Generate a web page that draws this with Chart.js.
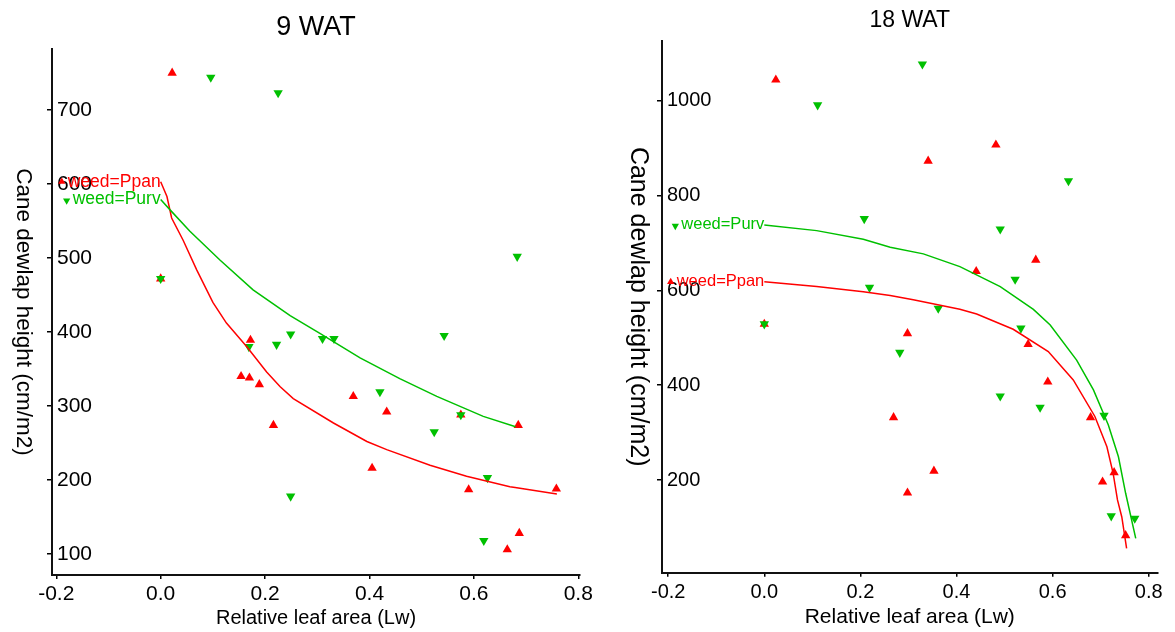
<!DOCTYPE html>
<html>
<head>
<meta charset="utf-8">
<script src="https://cdn.jsdelivr.net/npm/chart.js@4.4.1/dist/chart.umd.min.js"></script>
<style>
html,body{margin:0;padding:0;background:#fff;}
#wrap{position:relative;width:1175px;height:632px;overflow:hidden;background:#fff;}
#c1{position:absolute;left:0;top:0;}
#c2{position:absolute;left:600px;top:0;}
</style>
</head>
<body>
<div id="wrap">
<canvas id="c1" width="600" height="632"></canvas>
<canvas id="c2" width="575" height="632"></canvas>
</div>
<script>
// ---------- shared ----------
const X_TICKS = [-0.2, 0.0, 0.2, 0.4, 0.6, 0.8];
const SERIES_NAMES = ['weed=Ppan', 'weed=Purv'];

// ---------- 9 WAT ----------
const W9_Y_TICKS = [100, 200, 300, 400, 500, 600, 700];
const W9_PPAN_X = [0.022, 0.000, 0.172, 0.154, 0.170, 0.189, 0.216, 0.369, 0.433, 0.575, 0.405, 0.590, 0.664, 0.685, 0.758, 0.687];
const W9_PPAN_Y = [750, 472, 389, 340, 338, 329, 274, 313, 292, 288, 216, 187, 106, 274, 188, 128];
const W9_PURV_X = [0.096, 0.225, 0.000, 0.169, 0.222, 0.249, 0.310, 0.332, 0.543, 0.420, 0.575, 0.524, 0.249, 0.626, 0.619, 0.683];
const W9_PURV_Y = [744, 723, 472, 380, 383, 397, 391, 391, 395, 319, 288, 265, 178, 203, 118, 502];
const W9_PPAN_FIT_X = [0, 0.012, 0.021, 0.043, 0.069, 0.100, 0.126, 0.165, 0.203, 0.229, 0.254, 0.331, 0.395, 0.433, 0.516, 0.586, 0.669, 0.679, 0.759];
const W9_PPAN_FIT_Y = [603, 583, 554, 524, 484, 440, 412, 380, 346, 326, 310, 277, 252, 241, 220, 205, 191, 190, 181];
const W9_PURV_FIT_X = [0, 0.018, 0.056, 0.114, 0.177, 0.248, 0.305, 0.382, 0.458, 0.529, 0.618, 0.680];
const W9_PURV_FIT_Y = [579, 565, 536, 497, 457, 422, 398, 365, 337, 313, 286, 272];

// ---------- 18 WAT ----------
const W18_Y_TICKS = [200, 400, 600, 800, 1000];
const W18_PPAN_X = [0.024, 0.341, 0.482, 0.565, 0.441, 0.298, 0.549, 0.590, 0.269, 0.679, 0.353, 0.728, 0.704, 0.298, 0.752, 0.000];
const W18_PPAN_Y = [1044, 873, 907, 664, 640, 509, 486, 407, 332, 332, 219, 216, 196, 173, 83, 529];
const W18_PURV_X = [0.329, 0.111, 0.208, 0.633, 0.491, 0.522, 0.219, 0.362, 0.534, 0.282, 0.491, 0.574, 0.707, 0.722, 0.771, 0.000];
const W18_PURV_Y = [1077, 991, 751, 831, 729, 623, 606, 562, 520, 469, 377, 353, 336, 124, 119, 529];
const W18_PPAN_FIT_X = [0, 0.109, 0.206, 0.262, 0.310, 0.407, 0.442, 0.518, 0.591, 0.643, 0.688, 0.713, 0.726, 0.735, 0.744, 0.754];
const W18_PPAN_FIT_Y = [618, 608, 597, 589, 580, 560, 550, 518, 471, 411, 334, 270, 214, 158, 122, 56];
const W18_PURV_FIT_X = [0, 0.109, 0.206, 0.262, 0.331, 0.407, 0.491, 0.560, 0.595, 0.650, 0.685, 0.716, 0.737, 0.752, 0.773];
const W18_PURV_FIT_Y = [738, 726, 708, 691, 677, 650, 608, 560, 527, 453, 390, 316, 249, 172, 77];

// ---------- styling ----------
const FONT = "'Liberation Sans', Arial, Helvetica, sans-serif";
const RED = '#FF0000';
const GREEN = '#00C000';

function pts(xs, ys) { return xs.map((x, i) => ({x: x, y: ys[i]})); }

// y-axis title rotated clockwise (reads top to bottom)
const yTitleCW = {
  id: 'yTitleCW',
  afterDraw(chart, args, o) {
    const ctx = chart.ctx, ca = chart.chartArea;
    ctx.save();
    ctx.translate(o.x, (ca.top + ca.bottom) / 2);
    ctx.rotate(Math.PI / 2);
    ctx.font = o.size + 'px ' + FONT;
    ctx.fillStyle = '#000';
    ctx.textAlign = 'center';
    ctx.textBaseline = 'middle';
    ctx.fillText(o.text, 0, 0);
    ctx.restore();
  }
};

// group labels placed at the start of each fitted curve
const curveLabels = {
  id: 'curveLabels',
  afterDatasetsDraw(chart, args, o) {
    const ctx = chart.ctx;
    const xs = chart.scales.x, ys = chart.scales.y;
    o.items.forEach(it => {
      const ds = chart.data.datasets[it.dataset];
      const p0 = ds.data[0];
      const px = xs.getPixelForValue(p0.x), py = ys.getPixelForValue(p0.y);
      ctx.save();
      ctx.font = o.size + 'px ' + FONT;
      ctx.fillStyle = it.color;
      ctx.textAlign = 'right';
      ctx.textBaseline = 'middle';
      ctx.fillText(it.text, px, py);
      const w = ctx.measureText(it.text).width;
      ctx.beginPath();
      const r = 4.2, cx = px - w - 6, cy = py + (it.rotation ? 1 : 0);
      const a0 = it.rotation * Math.PI / 180;
      for (let k = 0; k < 3; k++) {
        const a = a0 + k * 2 * Math.PI / 3;
        const X = cx + Math.sin(a) * r, Y = cy - Math.cos(a) * r;
        if (k === 0) ctx.moveTo(X, Y); else ctx.lineTo(X, Y);
      }
      ctx.closePath();
      ctx.fill();
      ctx.restore();
    });
  }
};

function makeChart(id, cfg) {
  const datasets = [
    {label: SERIES_NAMES[1] + ' fit', data: pts(cfg.purvFitX, cfg.purvFitY), showLine: true, borderColor: GREEN, borderWidth: 1.5, pointRadius: 0, tension: 0, fill: false},
    {label: SERIES_NAMES[0] + ' fit', data: pts(cfg.ppanFitX, cfg.ppanFitY), showLine: true, borderColor: RED, borderWidth: 1.5, pointRadius: 0, tension: 0, fill: false},
    {label: SERIES_NAMES[1], data: pts(cfg.purvX, cfg.purvY), showLine: false, pointStyle: 'triangle', pointRotation: 180, pointRadius: 5.4, pointBorderWidth: 0, backgroundColor: GREEN, borderColor: GREEN},
    {label: SERIES_NAMES[0], data: pts(cfg.ppanX, cfg.ppanY), showLine: false, pointStyle: 'triangle', pointRotation: 0, pointRadius: 5.4, pointBorderWidth: 0, backgroundColor: RED, borderColor: RED}
  ];
  return new Chart(document.getElementById(id), {
    type: 'scatter',
    data: {datasets: datasets},
    plugins: [yTitleCW, curveLabels],
    options: {
      responsive: false,
      animation: false,
      events: [],
      layout: {padding: {left: 0, right: cfg.padRight, top: 0, bottom: 0}},
      plugins: {
        legend: {display: false},
        tooltip: {enabled: false},
        title: {display: true, text: cfg.title, fullSize: false, color: '#000',
                font: {family: FONT, size: cfg.titleSize, weight: 'normal', lineHeight: 1},
                padding: {top: cfg.titlePadTop, bottom: cfg.titlePadBottom}},
        yTitleCW: {text: 'Cane dewlap height (cm/m2)', x: cfg.yTitleX, size: cfg.yTitleSize},
        curveLabels: {size: cfg.labelSize, items: [
          {dataset: 1, text: SERIES_NAMES[0], color: RED, rotation: 0},
          {dataset: 0, text: SERIES_NAMES[1], color: GREEN, rotation: 180}
        ]}
      },
      scales: {
        x: {
          type: 'linear', position: 'bottom', min: cfg.xMin, max: cfg.xMax,
          afterBuildTicks: s => { s.ticks = X_TICKS.map(v => ({value: v})); },
          afterFit: s => { s.height = cfg.xAxisHeight; },
          ticks: {autoSkip: false, maxRotation: 0, color: '#000', padding: cfg.xTickPad,
                  font: {family: FONT, size: cfg.tickSize, lineHeight: 1},
                  callback: v => Number(v).toFixed(1)},
          grid: {drawOnChartArea: false, drawTicks: true, tickLength: 4, color: '#000', lineWidth: 1.5},
          border: {display: true, color: '#111', width: 2},
          title: {display: true, text: 'Relative leaf area (Lw)', color: '#000',
                  font: {family: FONT, size: cfg.xTitleSize, lineHeight: 1},
                  padding: {top: 0, bottom: cfg.xTitlePadBottom}}
        },
        y: {
          type: 'linear', position: 'left', min: cfg.yMin, max: cfg.yMax,
          afterBuildTicks: s => { s.ticks = cfg.yTicks.map(v => ({value: v})); },
          afterFit: s => { s.width = cfg.yAxisWidth; },
          ticks: {autoSkip: false, mirror: true, color: '#000', padding: 5,
                  font: {family: FONT, size: cfg.tickSize, lineHeight: 1},
                  callback: v => String(v)},
          grid: {drawOnChartArea: false, drawTicks: true, tickLength: 5, color: '#000', lineWidth: 1.5},
          border: {display: true, color: '#111', width: 2},
          title: {display: false}
        }
      }
    }
  });
}

makeChart('c1', {
  title: '9 WAT', titleSize: 27, titlePadTop: 14.5, titlePadBottom: 7.5,
  ppanX: W9_PPAN_X, ppanY: W9_PPAN_Y, purvX: W9_PURV_X, purvY: W9_PURV_Y,
  ppanFitX: W9_PPAN_FIT_X, ppanFitY: W9_PPAN_FIT_Y, purvFitX: W9_PURV_FIT_X, purvFitY: W9_PURV_FIT_Y,
  yTicks: W9_Y_TICKS, xMin: -0.2082, xMax: 0.8033, yMin: 71.6, yMax: 782.4,
  padRight: 20, xAxisHeight: 57, yAxisWidth: 52,
  tickSize: 21, xTickPad: 4.5, xTitleSize: 20, xTitlePadBottom: 4,
  yTitleX: 23, yTitleSize: 22.5, labelSize: 17.5
});

makeChart('c2', {
  title: '18 WAT', titleSize: 23, titlePadTop: 9.2, titlePadBottom: 8.5,
  ppanX: W18_PPAN_X, ppanY: W18_PPAN_Y, purvX: W18_PURV_X, purvY: W18_PURV_Y,
  ppanFitX: W18_PPAN_FIT_X, ppanFitY: W18_PPAN_FIT_Y, purvFitX: W18_PURV_FIT_X, purvFitY: W18_PURV_FIT_Y,
  yTicks: W18_Y_TICKS, xMin: -0.2129, xMax: 0.8183, yMin: 4.5, yMax: 1126.6,
  padRight: 17.5, xAxisHeight: 59.3, yAxisWidth: 62,
  tickSize: 20, xTickPad: 5.8, xTitleSize: 21, xTitlePadBottom: 4,
  yTitleX: 38, yTitleSize: 25, labelSize: 16.5
});
</script>
</body>
</html>
